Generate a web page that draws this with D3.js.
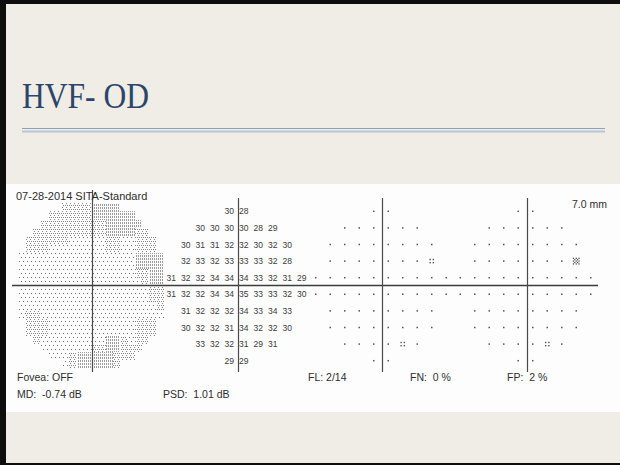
<!DOCTYPE html>
<html>
<head>
<meta charset="utf-8">
<script src="https://cdn.jsdelivr.net/npm/d3@7"></script>
<style>
  html, body { margin: 0; padding: 0; background: #f0ede7; }
  svg { display: block; }
  text { white-space: pre; }
</style>
</head>
<body>
<svg id="chart" width="620" height="465"></svg>
<script>
// 10-2 test grid, degrees from fixation
const colDeg = [-9, -7, -5, -3, -1, 1, 3, 5, 7, 9];
const rowDeg = [9, 7, 5, 3, 1, -1, -3, -5, -7, -9];

// Threshold sensitivities in dB (null = location not tested)
const thresholdRows = [
  [null, null, null, null, 30, 28, null, null, null, null],
  [null, null, 30, 30, 30, 30, 28, 29, null, null],
  [null, 30, 31, 31, 32, 32, 30, 32, 30, null],
  [null, 32, 33, 32, 33, 33, 33, 32, 28, null],
  [31, 32, 32, 34, 34, 34, 33, 32, 31, 29],
  [31, 32, 32, 34, 34, 35, 33, 33, 32, 30],
  [null, 31, 32, 32, 32, 34, 33, 34, 33, null],
  [null, 30, 32, 32, 31, 34, 32, 32, 30, null],
  [null, null, 33, 32, 32, 31, 29, 31, null, null],
  [null, null, null, null, 29, 29, null, null, null, null]
];

// Probability symbols: 0 = within normal limits, 1 = p < 5%, 2 = p < 2%
const totalDevRows = [
  [null, null, null, null, 0, 0, null, null, null, null],
  [null, null, 0, 0, 0, 0, 0, 0, null, null],
  [null, 0, 0, 0, 0, 0, 0, 0, 0, null],
  [null, 0, 0, 0, 0, 0, 0, 0, 1, null],
  [0, 0, 0, 0, 0, 0, 0, 0, 0, 0],
  [0, 0, 0, 0, 0, 0, 0, 0, 0, 0],
  [null, 0, 0, 0, 0, 0, 0, 0, 0, null],
  [null, 0, 0, 0, 0, 0, 0, 0, 0, null],
  [null, null, 0, 0, 0, 0, 1, 0, null, null],
  [null, null, null, null, 0, 0, null, null, null, null]
];
const patternDevRows = [
  [null, null, null, null, 0, 0, null, null, null, null],
  [null, null, 0, 0, 0, 0, 0, 0, null, null],
  [null, 0, 0, 0, 0, 0, 0, 0, 0, null],
  [null, 0, 0, 0, 0, 0, 0, 0, 2, null],
  [0, 0, 0, 0, 0, 0, 0, 0, 0, 0],
  [0, 0, 0, 0, 0, 0, 0, 0, 0, 0],
  [null, 0, 0, 0, 0, 0, 0, 0, 0, null],
  [null, 0, 0, 0, 0, 0, 0, 0, 0, null],
  [null, null, 0, 0, 0, 0, 1, 0, null, null],
  [null, null, null, null, 0, 0, null, null, null, null]
];

// Greyscale tone breaks (dB): at or above first = lightest
const toneBreaks = [31, 29.6];

const titleText = "HVF- OD";
const headerText = "07-28-2014 SITA-Standard";
const pupilText = "7.0 mm";
const foveaText = "Fovea: OFF";
const mdText = "MD:  -0.74 dB";
const psdText = "PSD:  1.01 dB";
const reliabilityTexts = ["FL: 2/14", "FN:  0 %", "FP:  2 %"];

const W = 620, H = 465;
const svg = d3.select("#chart");
const defs = svg.append("defs");

// ---- slide ----
svg.append("rect").attr("width", W).attr("height", H).attr("fill", "#f0ede7");
svg.append("rect").attr("x", 0).attr("y", 0).attr("width", 6).attr("height", H).attr("fill", "#0d0d0d");
svg.append("rect").attr("x", 0).attr("y", 0).attr("width", W).attr("height", 4).attr("fill", "#0d0d0d");
svg.append("rect").attr("x", 0).attr("y", H - 2).attr("width", W).attr("height", 2).attr("fill", "#0d0d0d");

svg.append("text")
  .attr("x", 22).attr("y", 108)
  .attr("font-family", "'Liberation Serif', 'DejaVu Serif', serif")
  .attr("font-size", 36)
  .attr("fill", "#2c4669")
  .attr("textLength", 127)
  .attr("lengthAdjust", "spacingAndGlyphs")
  .text(titleText);

svg.append("line").attr("x1", 22).attr("x2", 605).attr("y1", 128.5).attr("y2", 128.5)
  .attr("stroke", "#8aa3bf").attr("stroke-width", 1);
svg.append("line").attr("x1", 22).attr("x2", 605).attr("y1", 131.5).attr("y2", 131.5)
  .attr("stroke", "#b7c5d5").attr("stroke-width", 2);

// ---- printout sheet ----
svg.append("rect").attr("x", 6).attr("y", 184).attr("width", W - 6).attr("height", 228).attr("fill", "#fdfdfd");

const sansFont = "'Liberation Sans', Arial, sans-serif";
const ink = "#2e2e2e";

// one x scale per plot, shared y scale (degrees -> px)
const pxPerDegX = 7.25;
const plotCenters = { grey: 91, num: 236.5, td: 381, pd: 525.5 };
const xScale = c => d3.scaleLinear().domain([-10, 10]).range([c - 10 * pxPerDegX, c + 10 * pxPerDegX]);
const y = d3.scaleLinear().domain([10, -10]).range([203, 369]);

const xGrey = xScale(plotCenters.grey);
const xNum = xScale(plotCenters.num);
const xTd = xScale(plotCenters.td);
const xPd = xScale(plotCenters.pd);

// flatten tested locations
const points = [];
thresholdRows.forEach((row, i) => row.forEach((v, j) => {
  if (v !== null) points.push({ dx: colDeg[j], dy: rowDeg[i], v, td: totalDevRows[i][j], pd: patternDevRows[i][j] });
}));

// ---- greyscale ----
const tonePatterns = [
  { id: "tone0", w: 8, h: 8, color: "#707070", dots: [[1, 1], [5, 1], [3, 5], [7, 5]] },
  { id: "tone1", w: 4, h: 4, color: "#858585", dots: [[1, 1], [3, 1], [2, 3]] },
  { id: "tone2", w: 2, h: 3, color: "#9c9c9c", dots: [[0, 0], [0, 1]] }
];
tonePatterns.forEach(p => {
  const pat = defs.append("pattern").attr("id", p.id)
    .attr("patternUnits", "userSpaceOnUse").attr("width", p.w).attr("height", p.h);
  p.dots.forEach(d => pat.append("rect").attr("x", d[0]).attr("y", d[1])
    .attr("width", 1).attr("height", 1).attr("fill", p.color));
});

function interp(gx, gy) {
  let num = 0, den = 0;
  for (const p of points) {
    const d2 = (p.dx - gx) ** 2 + (p.dy - gy) ** 2;
    if (d2 < 1e-6) return p.v;
    const w = 1 / (d2 * d2);
    num += w * p.v; den += w;
  }
  return num / den;
}

const cells = [];
for (let gy = -10; gy < 10; gy++) {
  for (let gx = -10; gx < 10; gx++) {
    const cxD = gx + 0.5, cyD = gy + 0.5;
    if (Math.hypot(cxD, cyD) > 10.3) continue;
    const v = interp(cxD, cyD);
    const tone = v >= toneBreaks[0] ? 0 : (v >= toneBreaks[1] ? 1 : 2);
    cells.push({ gx, gy, tone });
  }
}
const greyG = svg.append("g");
greyG.selectAll("rect").data(cells).join("rect")
  .attr("x", d => Math.round(xGrey(d.gx)))
  .attr("y", d => Math.round(y(d.gy + 1)))
  .attr("width", d => Math.round(xGrey(d.gx + 1)) - Math.round(xGrey(d.gx)))
  .attr("height", d => Math.round(y(d.gy)) - Math.round(y(d.gy + 1)))
  .attr("fill", d => `url(#tone${d.tone})`);

// ---- axes crosses ----
const axisColor = "#4a4a4a";
svg.append("line").attr("x1", 12).attr("x2", 598).attr("y1", 285.5).attr("y2", 285.5)
  .attr("stroke", "#3c3c3c").attr("stroke-width", 1.3);
[[xGrey, 190], [xNum, 198], [xTd, 198], [xPd, 198]].forEach(([sx, top]) => {
  const x0 = Math.round(sx(0)) + 1.5;
  svg.append("line").attr("x1", x0).attr("x2", x0).attr("y1", top).attr("y2", 372)
    .attr("stroke", axisColor).attr("stroke-width", 1.2);
});

// ---- threshold numbers ----
svg.append("g").selectAll("text").data(points).join("text")
  .attr("x", d => xNum(d.dx))
  .attr("y", d => y(d.dy) + 3)
  .attr("text-anchor", "middle")
  .attr("font-family", "'Liberation Sans Narrow', 'Liberation Sans', sans-serif")
  .attr("font-size", 8.5)
  .attr("fill", "#3a3a3a")
  .text(d => d.v);

// ---- probability symbols ----
function drawSymbols(sx, key) {
  const g = svg.append("g").attr("fill", "#555");
  points.forEach(p => {
    const cx = sx(p.dx), cy = y(p.dy);
    const code = p[key];
    if (code === 0) {
      g.append("rect").attr("x", cx - 0.75).attr("y", cy - 0.75).attr("width", 1.5).attr("height", 1.5);
    } else if (code === 1) {
      [[-1.6, -1.6], [1.6, -1.6], [-1.6, 1.6], [1.6, 1.6]].forEach(o =>
        g.append("rect").attr("x", cx + o[0] - 0.7).attr("y", cy + o[1] - 0.7).attr("width", 1.4).attr("height", 1.4));
    } else if (code === 2) {
      for (let i = -2; i <= 2; i++) for (let j = -2; j <= 2; j++) {
        if ((i + j) % 2 !== 0) continue;
        g.append("rect").attr("x", cx + i * 1.4 - 0.6).attr("y", cy + j * 1.4 - 0.6).attr("width", 1.2).attr("height", 1.2)
          .attr("fill", "#3a3a3a");
      }
    }
  });
}
drawSymbols(xTd, "td");
drawSymbols(xPd, "pd");

// ---- printout text ----
const txt = (x, yy, s, size) => svg.append("text").attr("x", x).attr("y", yy)
  .attr("font-family", sansFont).attr("font-size", size).attr("fill", ink).text(s);
txt(16, 200, headerText, 11);
txt(572, 208, pupilText, 10.5);
txt(17, 381, foveaText, 10.5);
txt(17, 398, mdText, 10.5);
txt(163, 398, psdText, 10.5);
[308, 410, 507].forEach((x, i) => txt(x, 381, reliabilityTexts[i], 10.5));
</script>
</body>
</html>
